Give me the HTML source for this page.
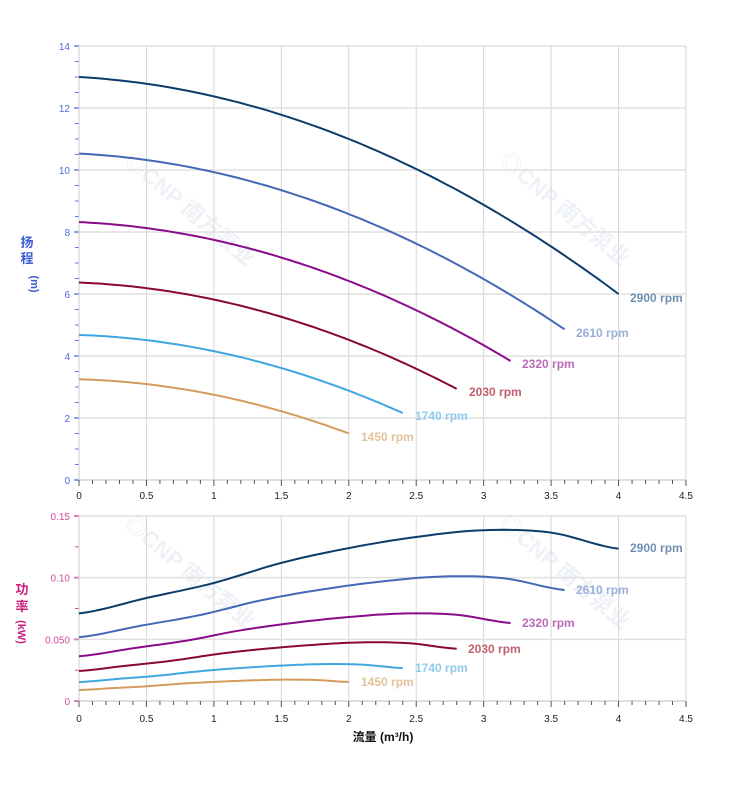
<!DOCTYPE html>
<html><head><meta charset="utf-8"><style>
body{margin:0;background:#fff;}
svg{display:block;font-family:"Liberation Sans","Noto Sans CJK SC",sans-serif;}
</style></head><body>
<svg id="s" width="752" height="797" xmlns="http://www.w3.org/2000/svg"></svg>
<script>
const s=document.getElementById('s');let h='';
const X0=79,XS=(686-79)/4.5;
const X=q=>X0+q*XS;
const TY=v=>480-v*31;
const BY=v=>701-v*(185/0.15);
// watermarks
[[185,215],[560,215],[185,578],[560,578]].forEach(([x,y])=>{h+=`<text x="${x}" y="${y}" font-size="22" font-weight="bold" fill="#eef2f7" transform="rotate(40 ${x} ${y})" text-anchor="middle">◎CNP 南方泵业</text>`;});
for(let i=0;i<=9;i++){const x=X(i*0.5);h+=`<line x1="${x}" y1="46" x2="${x}" y2="480" stroke="#d6d6d6"/><line x1="${x}" y1="516" x2="${x}" y2="701" stroke="#d6d6d6"/>`;}
for(let v=0;v<=14;v+=2){h+=`<line x1="79" y1="${TY(v)}" x2="686" y2="${TY(v)}" stroke="#e0e0e0" stroke-width="1.5"/>`;h+=`<text x="70" y="${TY(v)+4}" font-size="10" fill="#4a6be0" text-anchor="end">${v}</text><line x1="74" y1="${TY(v)}" x2="79" y2="${TY(v)}" stroke="#8aa0ee" stroke-width="2"/>`;}
for(let v=0;v<14;v+=0.5){if(v%2)h+=`<line x1="75" y1="${TY(v)}" x2="79" y2="${TY(v)}" stroke="#5a78e8"/>`;}
const bl=[[0,'0'],[0.05,'0.050'],[0.1,'0.10'],[0.15,'0.15']];
bl.forEach(([v,t])=>{h+=`<line x1="79" y1="${BY(v)}" x2="686" y2="${BY(v)}" stroke="#e0e0e0" stroke-width="1.5"/><text x="70" y="${BY(v)+4}" font-size="10" fill="#d04aa0" text-anchor="end">${t}</text><line x1="74" y1="${BY(v)}" x2="79" y2="${BY(v)}" stroke="#e080c0" stroke-width="2"/>`;});
for(let v=0.025;v<0.15;v+=0.05){h+=`<line x1="75" y1="${BY(v)}" x2="79" y2="${BY(v)}" stroke="#d04aa0"/>`;}
h+=`<line x1="79" y1="46" x2="79" y2="480" stroke="#ccc"/><line x1="79" y1="516" x2="79" y2="701" stroke="#ccc"/>`;
h+=`<line x1="79" y1="480" x2="686" y2="480" stroke="#ccc"/><line x1="79" y1="701" x2="686" y2="701" stroke="#ccc"/>`;
for(let i=0;i<=45;i++){const x=X(i*0.1),L=i%5?4:6;h+=`<line x1="${x}" y1="480" x2="${x}" y2="${480+L}" stroke="#555"/><line x1="${x}" y1="701" x2="${x}" y2="${701+L}" stroke="#555"/>`;}
const xl=['0','0.5','1','1.5','2','2.5','3','3.5','4','4.5'];
xl.forEach((t,i)=>{h+=`<text x="${X(i*0.5)}" y="499" font-size="10" text-anchor="middle" fill="#222">${t}</text><text x="${X(i*0.5)}" y="722" font-size="10" text-anchor="middle" fill="#222">${t}</text>`;});
h+=`<text x="27" y="247" font-size="13" font-weight="bold" fill="#3a5bd8" text-anchor="middle">扬</text><text x="27" y="263" font-size="13" font-weight="bold" fill="#3a5bd8" text-anchor="middle">程</text><text transform="translate(31,284) rotate(90)" font-size="11" font-weight="bold" fill="#3a5bd8" text-anchor="middle">(m)</text>`;
h+=`<text x="22" y="594" font-size="13" font-weight="bold" fill="#c8207a" text-anchor="middle">功</text><text x="22" y="611" font-size="13" font-weight="bold" fill="#c8207a" text-anchor="middle">率</text><text transform="translate(18,632) rotate(90)" font-size="11" font-weight="bold" fill="#c8207a" text-anchor="middle">(kW)</text>`;
h+=`<text x="383" y="741" font-size="12" font-weight="bold" fill="#111" text-anchor="middle">流量 (m³/h)</text>`;
const ser=[[2900,'#0c3c6a','#6f90b2',630,302,630,552],[2610,'#4368b8','#9aaed8',576,337,576,594],[2320,'#8a0c8a','#b86cb8',522,368,522,627],[2030,'#880a30','#c0606e',469,396,468,653],[1740,'#3ea6e0','#8fcbee',415,420,415,672],[1450,'#d49c5c','#e4c29a',361,441,361,686]];
const pq=[0,0.5,1,1.5,2,2.5,3,3.5,4],pv=[0.071,0.0835,0.0957,0.112,0.124,0.133,0.1385,0.1365,0.1235];
function P(q){let i=Math.min(7,Math.floor(q/0.5));const t=(q-pq[i])/0.5;
 const p0=pv[Math.max(0,i-1)],p1=pv[i],p2=pv[i+1],p3=pv[Math.min(8,i+2)];
 return 0.5*((2*p1)+(-p0+p2)*t+(2*p0-5*p1+4*p2-p3)*t*t+(-p0+3*p1-3*p2+p3)*t*t*t);}
ser.forEach(([n,c,lc,lx,ly,bx,by])=>{const r=n/2900,qe=4*r;let a='',b='';
 for(let k=0;k<=80;k++){const q=qe*k/80;const H=13*r*r-0.25*r*q-0.375*q*q;a+=(k?'L':'M')+X(q).toFixed(1)+' '+TY(H).toFixed(1);
  const pw=r*r*r*P(Math.min(4,q/r));b+=(k?'L':'M')+X(q).toFixed(1)+' '+BY(pw).toFixed(1);}
 h+=`<path d="${a}" fill="none" stroke="${c}" stroke-width="2"/><path d="${b}" fill="none" stroke="${c}" stroke-width="2"/>`;
 h+=`<text x="${lx}" y="${ly}" font-size="12" font-weight="bold" fill="${lc}">${n} rpm</text><text x="${bx}" y="${by}" font-size="12" font-weight="bold" fill="${lc}">${n} rpm</text>`;});
s.innerHTML=h;
</script>
</body></html>
